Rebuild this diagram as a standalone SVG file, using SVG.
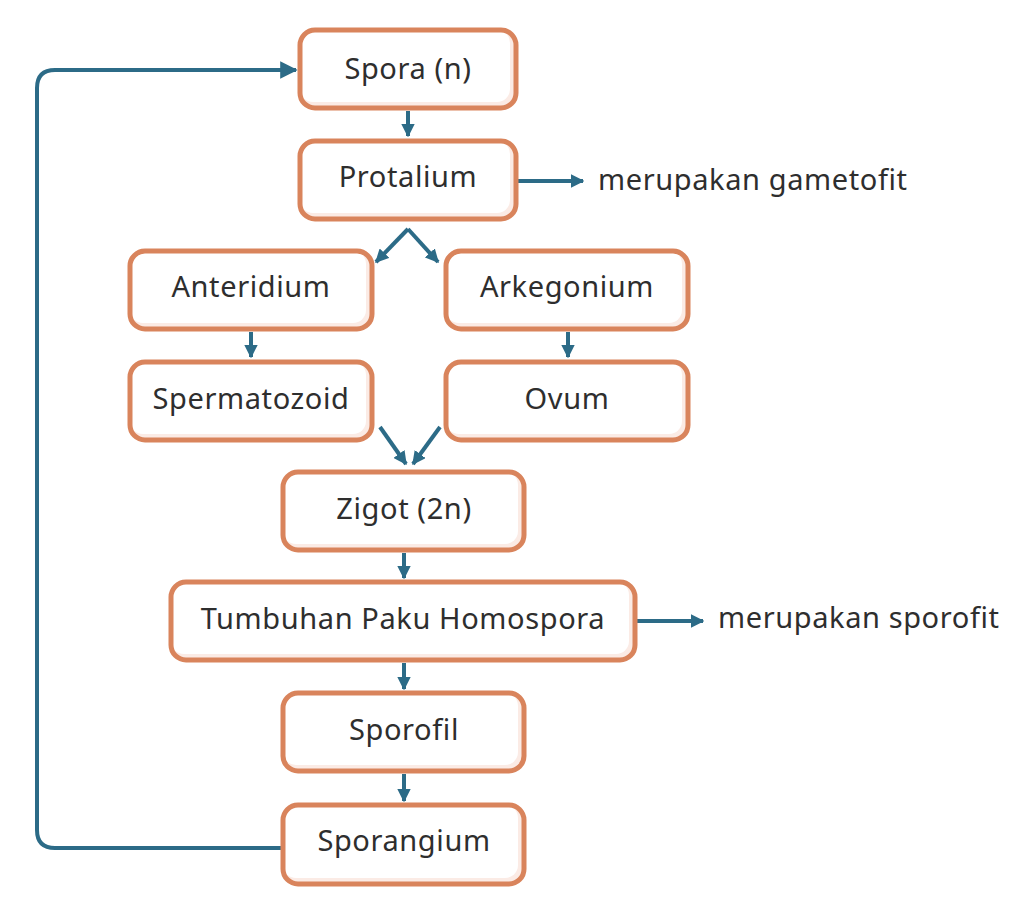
<svg xmlns="http://www.w3.org/2000/svg" width="1024" height="913" viewBox="0 0 1024 913">
<defs>
<style>
.sh{fill:#FBEBE5;}
.bx{fill:#FFFFFF;}
.br{fill:none;stroke:#D9845C;stroke-width:5;}
.t{font-family:"Noto Sans","Open Sans",sans-serif;font-size:29px;letter-spacing:0.6px;fill:#2E2E2E;text-anchor:middle;font-variant-ligatures:none;}
.n{font-family:"Noto Sans","Open Sans",sans-serif;font-size:29px;letter-spacing:0.6px;fill:#2E2E2E;font-variant-ligatures:none;}
.c{fill:none;stroke:#2C6B87;stroke-width:4;}
</style>
<marker id="ah" viewBox="0 0 10 10" refX="9" refY="5" markerWidth="4.4" markerHeight="4.4" orient="auto" markerUnits="strokeWidth">
<path d="M0,0 L10,5 L0,10 z" fill="#2C6B87"/>
</marker>
<marker id="ahs" viewBox="0 0 10 10" refX="9" refY="5" markerWidth="3.4" markerHeight="3.4" orient="auto" markerUnits="strokeWidth">
<path d="M0,0 L10,5 L0,10 z" fill="#2C6B87"/>
</marker>
</defs>
<rect width="1024" height="913" fill="#FFFFFF"/>
<g id="connectors">
<path class="c" d="M408,111 V136" marker-end="url(#ahs)"/>
<path class="c" d="M518,181 H583" marker-end="url(#ahs)"/>
<path class="c" d="M408,229 L438,262" marker-end="url(#ahs)"/>
<path class="c" d="M408,229 L376,262" marker-end="url(#ahs)"/>
<path class="c" d="M251,332 V357" marker-end="url(#ahs)"/>
<path class="c" d="M568,332 V357" marker-end="url(#ahs)"/>
<path class="c" d="M380,427 L406,464" marker-end="url(#ahs)"/>
<path class="c" d="M440,427 L413,464" marker-end="url(#ahs)"/>
<path class="c" d="M404,553 V578" marker-end="url(#ahs)"/>
<path class="c" d="M637,621 H703" marker-end="url(#ahs)"/>
<path class="c" d="M404,663 V689" marker-end="url(#ahs)"/>
<path class="c" d="M404,774 V801" marker-end="url(#ahs)"/>
<path class="c" d="M281,848 H55 Q37,848 37,830 V88 Q37,70 55,70 H296" marker-end="url(#ah)"/>
</g>
<g id="spora">
<rect class="sh" x="300" y="30" width="216" height="78" rx="15"/>
<rect class="bx" x="300" y="30" width="210" height="72" rx="13"/>
<rect class="br" x="300" y="30" width="216" height="78" rx="15"/>
<text class="t" x="408" y="79">Spora (n)</text>
</g>
<g id="protalium">
<rect class="sh" x="300" y="141" width="216" height="78" rx="15"/>
<rect class="bx" x="300" y="141" width="210" height="72" rx="13"/>
<rect class="br" x="300" y="141" width="216" height="78" rx="15"/>
<text class="t" x="408" y="187">Protalium</text>
</g>
<g id="gametofit">
<text class="n" x="598" y="190">merupakan gametofit</text>
</g>
<g id="anteridium">
<rect class="sh" x="130" y="251" width="242" height="78" rx="15"/>
<rect class="bx" x="130" y="251" width="236" height="72" rx="13"/>
<rect class="br" x="130" y="251" width="242" height="78" rx="15"/>
<text class="t" x="251" y="297">Anteridium</text>
</g>
<g id="arkegonium">
<rect class="sh" x="446" y="251" width="242" height="78" rx="15"/>
<rect class="bx" x="446" y="251" width="236" height="72" rx="13"/>
<rect class="br" x="446" y="251" width="242" height="78" rx="15"/>
<text class="t" x="567" y="297">Arkegonium</text>
</g>
<g id="spermatozoid">
<rect class="sh" x="130" y="362" width="242" height="78" rx="15"/>
<rect class="bx" x="130" y="362" width="236" height="72" rx="13"/>
<rect class="br" x="130" y="362" width="242" height="78" rx="15"/>
<text class="t" x="251" y="409">Spermatozoid</text>
</g>
<g id="ovum">
<rect class="sh" x="446" y="362" width="242" height="78" rx="15"/>
<rect class="bx" x="446" y="362" width="236" height="72" rx="13"/>
<rect class="br" x="446" y="362" width="242" height="78" rx="15"/>
<text class="t" x="567" y="409">Ovum</text>
</g>
<g id="zigot">
<rect class="sh" x="283" y="472" width="241" height="78" rx="15"/>
<rect class="bx" x="283" y="472" width="235" height="72" rx="13"/>
<rect class="br" x="283" y="472" width="241" height="78" rx="15"/>
<text class="t" x="404" y="519">Zigot (2n)</text>
</g>
<g id="tumbuhan">
<rect class="sh" x="171" y="582" width="464" height="78" rx="15"/>
<rect class="bx" x="171" y="582" width="458" height="72" rx="13"/>
<rect class="br" x="171" y="582" width="464" height="78" rx="15"/>
<text class="t" x="403" y="629">Tumbuhan Paku Homospora</text>
</g>
<g id="sporofit">
<text class="n" x="718" y="628">merupakan sporofit</text>
</g>
<g id="sporofil">
<rect class="sh" x="283" y="693" width="241" height="78" rx="15"/>
<rect class="bx" x="283" y="693" width="235" height="72" rx="13"/>
<rect class="br" x="283" y="693" width="241" height="78" rx="15"/>
<text class="t" x="404" y="740">Sporofil</text>
</g>
<g id="sporangium">
<rect class="sh" x="283" y="805" width="241" height="79" rx="15"/>
<rect class="bx" x="283" y="805" width="235" height="73" rx="13"/>
<rect class="br" x="283" y="805" width="241" height="79" rx="15"/>
<text class="t" x="404" y="851">Sporangium</text>
</g>
</svg>
